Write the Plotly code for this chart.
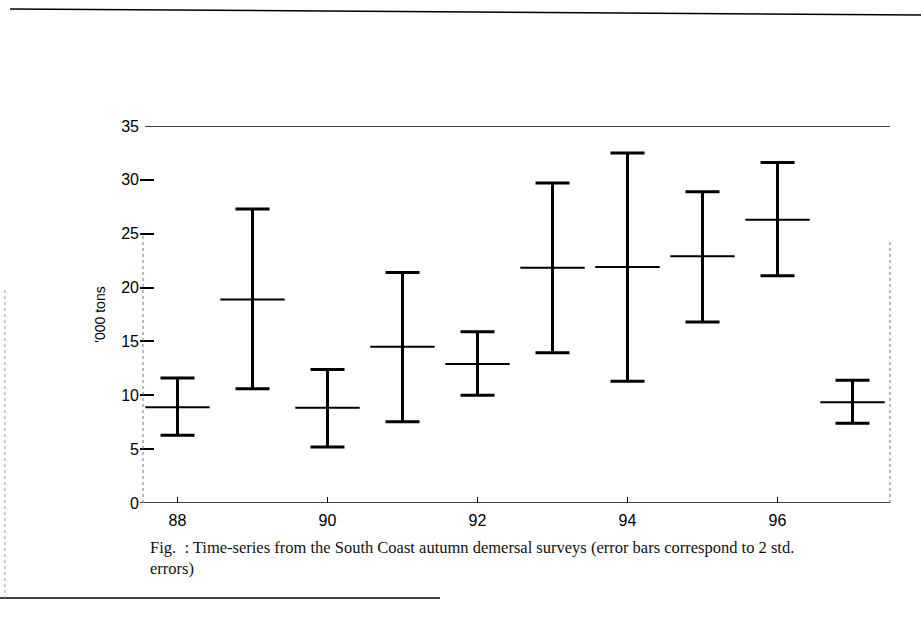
import plotly.graph_objects as go

years = [88, 89, 90, 91, 92, 93, 94, 95, 96, 97]
centre = [8.9, 18.9, 8.85, 14.5, 12.9, 21.85, 21.9, 22.9, 26.3, 9.35]
upper = [11.6, 27.3, 12.4, 21.4, 15.9, 29.7, 32.5, 28.9, 31.6, 11.4]
lower = [6.3, 10.6, 5.2, 7.55, 10.0, 13.95, 11.3, 16.8, 21.1, 7.4]
ytick_vals = [0, 5, 10, 15, 20, 25, 30, 35]
xtick_vals = [88, 90, 92, 94, 96]

W, H = 921, 628
L, R, T, B = 140, 31, 126, 125
PW, PH = W - L - R, H - T - B


def px(x):
    return (x - L) / PW


def py(y):
    return (H - B - y) / PH


err_plus = [u - c for u, c in zip(upper, centre)]
err_minus = [c - l for c, l in zip(centre, lower)]

fig = go.Figure()
fig.add_trace(go.Scatter(
    x=years, y=centre, mode="markers",
    marker=dict(symbol="line-ew", size=46, color="black",
                line=dict(width=2, color="black")),
    error_y=dict(type="data", symmetric=False, array=err_plus,
                 arrayminus=err_minus, thickness=3, width=17, color="black"),
    showlegend=False, hoverinfo="skip",
))

shapes = []
# top border at 35 and zero line
shapes.append(dict(type="line", xref="paper", yref="y", x0=px(145), x1=px(890),
                   y0=35, y1=35, line=dict(color="black", width=1.5)))
shapes.append(dict(type="line", xref="paper", yref="y", x0=0, x1=px(890),
                   y0=0, y1=0, line=dict(color="black", width=1.5)))
# faint dotted side lines
shapes.append(dict(type="line", xref="paper", yref="y", x0=px(143), x1=px(143),
                   y0=0, y1=25, line=dict(color="#777", width=1, dash="dot")))
shapes.append(dict(type="line", xref="paper", yref="y", x0=px(890), x1=px(890),
                   y0=0, y1=24.5, line=dict(color="#777", width=1, dash="dot")))
# page rules from the scan
shapes.append(dict(type="line", xref="paper", yref="paper", x0=px(10), x1=px(921),
                   y0=py(9), y1=py(15), line=dict(color="black", width=1.5)))
shapes.append(dict(type="line", xref="paper", yref="paper", x0=px(0), x1=px(440),
                   y0=py(598), y1=py(598), line=dict(color="black", width=1.5)))
shapes.append(dict(type="line", xref="paper", yref="paper", x0=px(5), x1=px(5),
                   y0=py(290), y1=py(598), line=dict(color="#999", width=1, dash="dot")))

fig.update_layout(
    width=W, height=H,
    margin=dict(l=L, r=R, t=T, b=B, pad=0),
    paper_bgcolor="white", plot_bgcolor="white",
    font=dict(family="Liberation Sans, Arial, sans-serif", size=16, color="black"),
    shapes=shapes,
    xaxis=dict(range=[87.5, 97.5], tickvals=xtick_vals,
               ticktext=[str(v) for v in xtick_vals],
               showgrid=False, zeroline=False, showline=False,
               ticks="inside", ticklen=6, tickwidth=1, tickcolor="black",
               ticklabelstandoff=6, tickfont=dict(size=16)),
    yaxis=dict(range=[0, 35], tickvals=ytick_vals,
               ticktext=[str(v) for v in ytick_vals],
               showgrid=False, zeroline=False, showline=False,
               ticks="inside", ticklen=14, tickwidth=1.5, tickcolor="black",
               tickfont=dict(size=16),
               title=dict(text="'000 tons", font=dict(size=14), standoff=12)),
    annotations=[dict(
        xref="paper", yref="paper", x=px(148), y=py(536),
        xanchor="left", yanchor="top", align="left", showarrow=False,
        text="Fig.  : Time-series from the South Coast autumn demersal surveys (error bars correspond to 2 std.<br>errors)",
        font=dict(family="Liberation Serif, Times New Roman, serif", size=16.5, color="#111"),
    )],
)

fig.write_html("out.html", config={"displayModeBar": False},
               post_script="document.body.style.margin='0';")
